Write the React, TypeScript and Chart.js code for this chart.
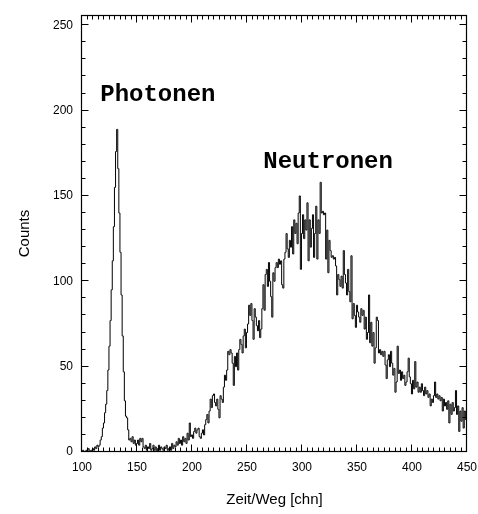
import { useEffect, useRef } from "react";
import { Chart, registerables } from "chart.js";

Chart.register(...registerables);

// Spectrum: counts per channel, starting at channel 100
const FIRST_CHANNEL = 100;
const counts = [
  // 100-109
  0, 1, 0, 0, 1, 0, 2, 1, 0, 1,
  // 110-119
  2, 1, 3, 2, 4, 3, 4, 7, 9, 14,
  // 120-129
  17, 23, 28, 36, 48, 62, 77, 95, 112, 132,
  // 130-139
  155, 176, 189, 166, 140, 117, 92, 68, 47, 30,
  // 140-149
  21, 20, 13, 7, 8, 6, 9, 5, 7, 4,
  // 150-159
  5, 7, 4, 8, 6, 8, 3, 2, 4, 1,
  // 160-169
  3, 2, 5, 1, 2, 4, 1, 3, 0, 2,
  // 170-179
  4, 1, 3, 2, 1, 3, 2, 4, 1, 2,
  // 180-189
  3, 1, 5, 2, 4, 3, 6, 4, 8, 5,
  // 190-199
  7, 4, 9, 6, 8, 5, 11, 7, 17, 9,
  // 200-209
  10, 8, 12, 14, 11, 13, 14, 9, 8, 11,
  // 210-219
  13, 10, 16, 19, 22, 17, 24, 31, 26, 33,
  // 220-229
  34, 29, 27, 31, 25, 20, 33, 31, 29, 38,
  // 230-239
  45, 42, 48, 59, 57, 60, 58, 52, 39, 56,
  // 240-249
  50, 58, 48, 60, 66, 63, 58, 68, 72, 61,
  // 250-259
  70, 75, 86, 80, 87, 77, 66, 84, 79, 74,
  // 260-269
  71, 77, 67, 72, 84, 98, 83, 104, 107, 97,
  // 270-279
  111, 100, 91, 79, 105, 100, 108, 111, 108, 113,
  // 280-289
  110, 112, 98, 96, 113, 117, 128, 119, 114, 124,
  // 290-299
  120, 132, 116, 136, 128, 134, 122, 140, 150, 107,
  // 300-309
  128, 139, 125, 136, 130, 146, 112, 136, 120, 131,
  // 310-319
  139, 114, 128, 144, 113, 136, 128, 158, 140, 141,
  // 320-329
  139, 140, 113, 130, 105, 124, 118, 114, 115, 113,
  // 330-339
  114, 109, 92, 104, 101, 97, 103, 96, 118, 104,
  // 340-349
  99, 92, 107, 94, 88, 115, 78, 87, 80, 73,
  // 350-359
  86, 82, 79, 76, 84, 80, 83, 72, 79, 66,
  // 360-369
  70, 92, 64, 76, 62, 70, 52, 61, 79, 77,
  // 370-379
  58, 60, 57, 59, 56, 59, 51, 43, 54, 57,
  // 380-389
  50, 59, 52, 45, 49, 35, 41, 62, 46, 48,
  // 390-399
  42, 47, 43, 45, 39, 41, 47, 55, 44, 40,
  // 400-409
  34, 42, 37, 53, 38, 41, 35, 38, 35, 40,
  // 410-419
  36, 33, 38, 34, 36, 32, 34, 27, 31, 29,
  // 420-429
  33, 41, 32, 34, 31, 33, 30, 32, 24, 31,
  // 430-439
  27, 29, 25, 30, 17, 28, 22, 29, 24, 26,
  // 440-449
  36, 22, 27, 12, 24, 18, 26, 14, 24, 19,
  // 450
  22,
];

const xTickValues = [100, 150, 200, 250, 300, 350, 400, 450];
const yTickValues = [0, 50, 100, 150, 200, 250];
const xMinorStep = 5;
const yMinorStep = 10;
const xRange = [100, 450];
const yRange = [0, 256];

const xTitle = "Zeit/Weg [chn]";
const yTitle = "Counts";

// Peak labels, anchored in data coordinates (left edge, vertical centre)
const peakLabels = [
  { text: "Photonen", x: 116.6, y: 209 },
  { text: "Neutronen", x: 264.8, y: 170 },
];

const SANS = "'Liberation Sans', Arial, Helvetica, sans-serif";
const MONO = "'Liberation Mono', 'Courier New', monospace";

// Box frame with inward major/minor ticks on all four sides, plus peak labels
const framePlugin = {
  id: "frameTicks",
  afterDatasetsDraw(chart: any) {
    const { ctx, chartArea } = chart;
    const xs = chart.scales.x;
    const ys = chart.scales.y;
    const L = Math.round(chartArea.left) - 0.5;
    const R = Math.round(chartArea.right) - 0.5;
    const T = Math.round(chartArea.top) + 0.5;
    const B = Math.round(chartArea.bottom) - 0.5;
    ctx.save();
    ctx.strokeStyle = "#000";
    ctx.lineWidth = 1.2;
    ctx.strokeRect(L, T, R - L, B - T);

    const major = 7;
    const minor = 4;
    ctx.lineWidth = 1;
    ctx.beginPath();
    for (let v = xRange[0]; v <= xRange[1]; v += xMinorStep) {
      const px = Math.round(xs.getPixelForValue(v)) - 0.5;
      const len = xTickValues.includes(v) ? major : minor;
      ctx.moveTo(px, B);
      ctx.lineTo(px, B - len);
      ctx.moveTo(px, T);
      ctx.lineTo(px, T + len);
    }
    for (let v = yRange[0]; v <= yRange[1]; v += yMinorStep) {
      const py = Math.round(ys.getPixelForValue(v)) - 0.5;
      const len = yTickValues.includes(v) ? major : minor;
      ctx.moveTo(L, py);
      ctx.lineTo(L + len, py);
      ctx.moveTo(R, py);
      ctx.lineTo(R - len, py);
    }
    ctx.stroke();

    ctx.fillStyle = "#000";
    ctx.font = `bold 24px ${MONO}`;
    ctx.textAlign = "left";
    ctx.textBaseline = "middle";
    for (const lab of peakLabels) {
      ctx.fillText(lab.text, xs.getPixelForValue(lab.x), ys.getPixelForValue(lab.y));
    }
    ctx.restore();
  },
};

export default function App() {
  const canvasRef = useRef<HTMLCanvasElement | null>(null);

  useEffect(() => {
    const canvas = canvasRef.current;
    if (!canvas) return;
    const points = counts.map((c, i) => ({ x: FIRST_CHANNEL + i, y: c }));
    const chart = new Chart(canvas, {
      type: "line",
      data: {
        datasets: [
          {
            data: points,
            borderColor: "#000",
            borderWidth: 1,
            pointRadius: 0,
            stepped: "middle",
            fill: false,
          },
        ],
      },
      options: {
        responsive: false,
        animation: false,
        devicePixelRatio: 1,
        layout: { padding: { top: 15, right: 11, bottom: 0, left: 0 } },
        plugins: {
          legend: { display: false },
          tooltip: { enabled: false },
        },
        scales: {
          x: {
            type: "linear",
            min: xRange[0],
            max: xRange[1],
            grid: { display: false, drawTicks: false },
            border: { display: false },
            afterBuildTicks: (s: any) => {
              s.ticks = xTickValues.map((v) => ({ value: v }));
            },
            afterFit: (s: any) => {
              s.height = 62;
              s.paddingLeft = 0;
              s.paddingRight = 0;
            },
            ticks: {
              padding: 8,
              color: "#000",
              maxRotation: 0,
              autoSkip: false,
              font: { family: SANS, size: 12 },
            },
            title: {
              display: true,
              text: xTitle,
              color: "#000",
              font: { family: SANS, size: 15 },
              padding: { top: 0, bottom: 5 },
            },
          },
          y: {
            type: "linear",
            min: yRange[0],
            max: yRange[1],
            grid: { display: false, drawTicks: false },
            border: { display: false },
            afterBuildTicks: (s: any) => {
              s.ticks = yTickValues.map((v) => ({ value: v }));
            },
            afterFit: (s: any) => {
              s.width = 82;
              s.paddingTop = 0;
              s.paddingBottom = 0;
            },
            ticks: {
              padding: 9,
              color: "#000",
              autoSkip: false,
              font: { family: SANS, size: 12 },
            },
            title: {
              display: true,
              text: yTitle,
              color: "#000",
              font: { family: SANS, size: 15 },
              padding: { top: 16, bottom: 0 },
            },
          },
        },
      },
      plugins: [framePlugin],
    });
    return () => chart.destroy();
  }, []);

  return (
    <div style={{ position: "fixed", left: 0, top: 0, width: 478, height: 514, background: "#fff" }}>
      <canvas ref={canvasRef} width={478} height={514} style={{ display: "block" }} />
    </div>
  );
}
